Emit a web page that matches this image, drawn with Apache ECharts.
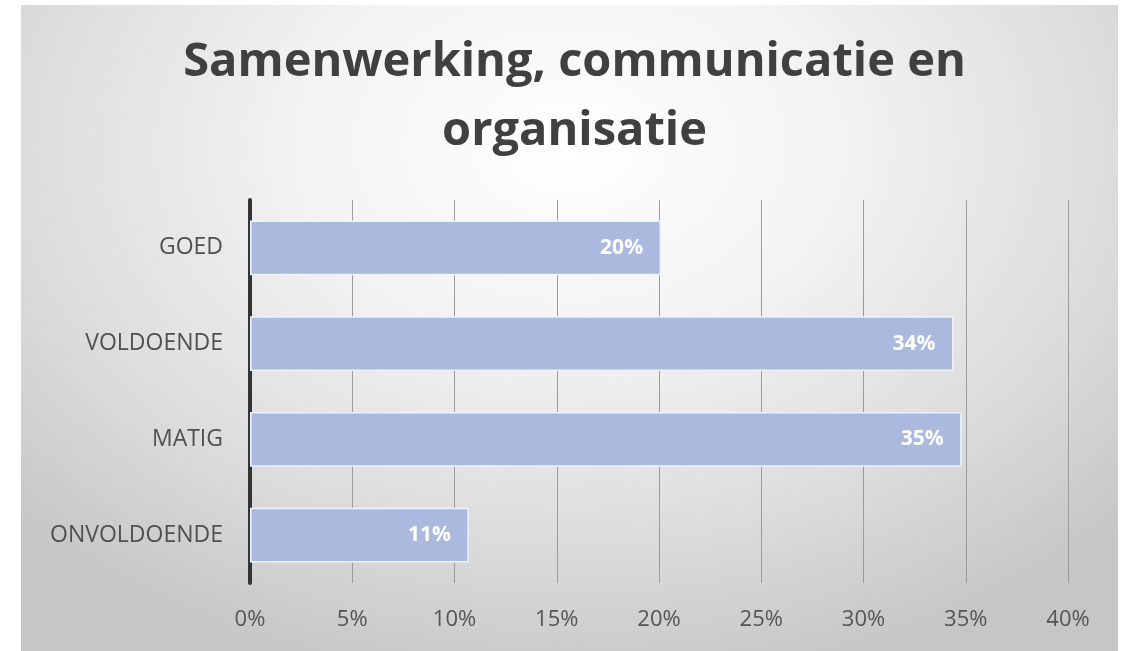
<!DOCTYPE html>
<html>
<head>
<meta charset="utf-8">
<script src="https://cdn.jsdelivr.net/npm/echarts@6/dist/echarts.min.js"></script>
<style>
  html, body { margin: 0; padding: 0; background: #ffffff; }
  #bg { position: absolute; left: 21px; top: 5px; width: 1097px; height: 646px;
        background: radial-gradient(ellipse 70% 85% at 50% 22%, #ffffff 0%, #f3f3f3 35%, #dddddd 70%, #c6c6c6 100%); }
  #chart { position: absolute; left: 0; top: 0; width: 1127px; height: 651px; }
</style>
</head>
<body>
<div id="bg"></div>
<div id="chart"></div>
<script>
const titleText = 'Samenwerking, communicatie en\norganisatie';
const categories = ['ONVOLDOENDE', 'MATIG', 'VOLDOENDE', 'GOED'];
const values = [10.7, 34.8, 34.4, 20.1];
const xTicks = { min: 0, max: 40, interval: 5 };

const chart = echarts.init(document.getElementById('chart'), null, { renderer: 'canvas' });
chart.setOption({
  backgroundColor: 'transparent',
  animation: false,
  title: {
    text: titleText,
    left: 569.5,
    textAlign: 'center',
    top: 23,
    textStyle: {
      fontFamily: 'Open Sans',
      fontWeight: 'bold',
      fontSize: 47,
      lineHeight: 69,
      color: '#404040'
    }
  },
  grid: { left: 250, right: 59, top: 200, bottom: 68, containLabel: false },
  xAxis: {
    type: 'value',
    min: xTicks.min,
    max: xTicks.max,
    interval: xTicks.interval,
    axisLine: { show: false },
    axisTick: { show: false },
    splitLine: { show: true, lineStyle: { color: '#9c9c9c', width: 1 } },
    axisLabel: {
      formatter: '{value}%',
      fontFamily: 'Open Sans',
      fontSize: 22,
      color: '#555555',
      margin: 26
    }
  },
  yAxis: {
    type: 'category',
    data: categories,
    axisLine: { show: true, lineStyle: { color: '#333333', width: 4 } },
    axisTick: { show: false },
    splitLine: { show: false },
    axisLabel: {
      fontFamily: 'Open Sans',
      fontSize: 23,
      color: '#505050',
      margin: 27
    }
  },
  series: [{
    type: 'bar',
    data: values,
    barCategoryGap: '43%',
    itemStyle: { color: '#aab9dd', borderColor: '#eef2fa', borderWidth: 1.5 },
    label: {
      show: true,
      position: 'insideRight',
      distance: 18,
      formatter: p => Math.round(p.value) + '%',
      fontFamily: 'Open Sans',
      fontWeight: 'bold',
      fontSize: 21,
      color: '#ffffff'
    }
  }]
});
</script>
</body>
</html>
